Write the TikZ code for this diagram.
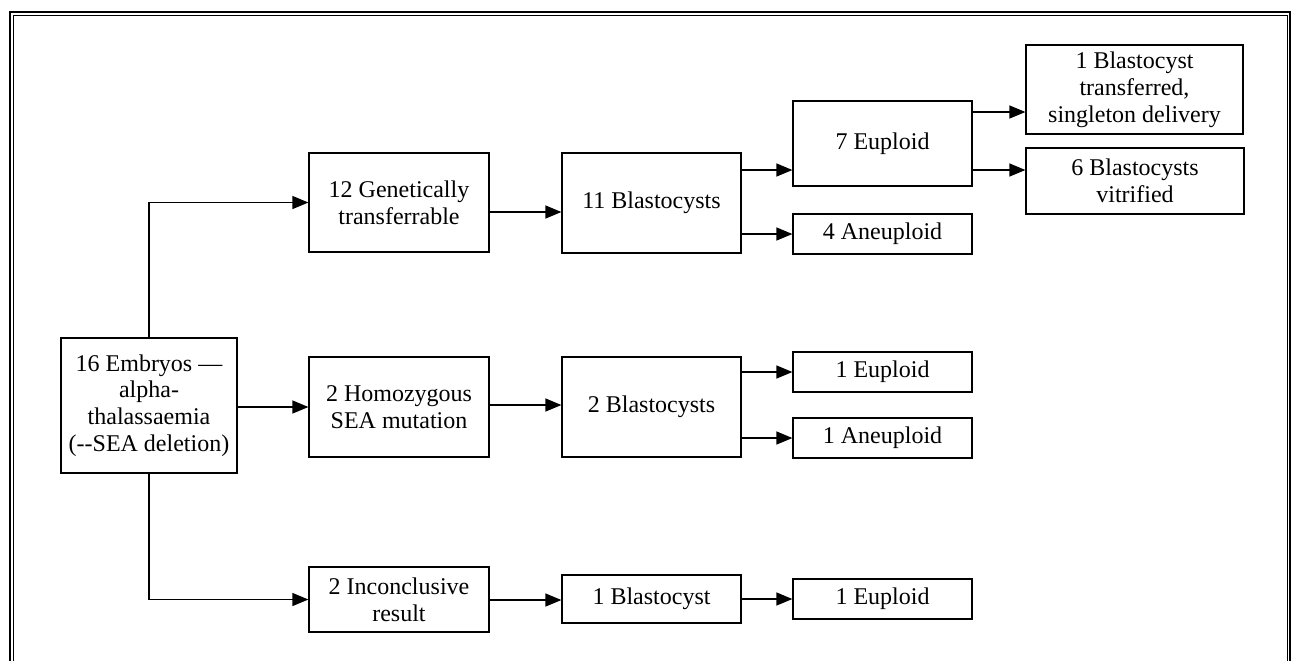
\documentclass[tikz,border=0pt]{standalone}
\usepackage{fontspec}
\setmainfont{Liberation Serif}
\usetikzlibrary{arrows.meta}
\begin{document}
\begin{tikzpicture}[x=0.5pt,y=0.5pt,yscale=-1,xscale=1,
  box/.style={draw, line width=0.6pt, inner sep=0pt, align=center, font=\fontsize{12}{13.4}\selectfont},
  arr/.style={line width=0.6pt, -{Triangle[length=8pt,width=6.5pt]}}]
\useasboundingbox (0,0) rectangle (1292,661);
%Frame
\draw [line width=1.2pt] (10,661) -- (10,12) -- (1290,12) -- (1290,661);
\draw [line width=0.5pt] (13,661) -- (13,15) -- (1287,15) -- (1287,661);

% Text Node
\node [box, minimum width=88pt, minimum height=67.5pt] (root) at (149,405.5) {16 Embryos —\\alpha-\\thalassaemia\\(-{}-SEA deletion)};
% Text Node
\node [box, minimum width=90pt, minimum height=49.5pt] (gen) at (399,202.5) {12 Genetically\\transferrable};
% Text Node
\node [box, minimum width=90pt, minimum height=50pt] (homo) at (399,407) {2 Homozygous\\SEA mutation};
% Text Node
\node [box, minimum width=90pt, minimum height=32.5pt] (inc) at (399,599.5) {2 Inconclusive\\result};
% Text Node
\node [box, minimum width=89.5pt, minimum height=50pt] (bl11) at (651.5,203) {11 Blastocysts};
% Text Node
\node [box, minimum width=89.5pt, minimum height=50pt] (bl2) at (651.5,407) {2 Blastocysts};
% Text Node
\node [box, minimum width=89.5pt, minimum height=24pt] (bl1) at (651.5,599) {1 Blastocyst};
% Text Node
\node [box, minimum width=89.5pt, minimum height=42.5pt] (eu7) at (882.5,143.5) {7 Euploid};
% Text Node
\node [box, minimum width=89.5pt, minimum height=20pt] (an4) at (882.5,234) {4 Aneuploid};
% Text Node
\node [box, minimum width=89.5pt, minimum height=20pt] (eu1) at (882.5,372) {1 Euploid};
% Text Node
\node [box, minimum width=89.5pt, minimum height=20pt] (an1) at (882.5,438) {1 Aneuploid};
% Text Node
\node [box, minimum width=89.5pt, minimum height=20pt] (eu1b) at (882.5,599) {1 Euploid};
% Text Node
\node [box, minimum width=108.5pt, minimum height=44.5pt] (tr1) at (1134.5,89.5) {1 Blastocyst\\transferred,\\singleton delivery};
% Text Node
\node [box, minimum width=109pt, minimum height=33pt] (vit6) at (1135,181) {6 Blastocysts\\vitrified};

%Straight Lines
\draw [arr] (root.north) |- (gen.west);
\draw [arr] (root.east |- homo.west) -- (homo.west);
\draw [arr] (root.south) |- (inc.west);
\draw [arr] (gen.east |- 0,212) -- (bl11.west |- 0,212);
\draw [arr] (homo.east |- 0,405) -- (bl2.west |- 0,405);
\draw [arr] (inc.east |- 0,600) -- (bl1.west |- 0,600);
\draw [arr] (bl11.east |- 0,170) -- (eu7.west |- 0,170);
\draw [arr] (bl11.east |- an4.west) -- (an4.west);
\draw [arr] (bl2.east |- eu1.west) -- (eu1.west);
\draw [arr] (bl2.east |- an1.west) -- (an1.west);
\draw [arr] (bl1.east |- eu1b.west) -- (eu1b.west);
\draw [arr] (eu7.east |- 0,112) -- (tr1.west |- 0,112);
\draw [arr] (eu7.east |- 0,170) -- (vit6.west |- 0,170);
\end{tikzpicture}
\end{document}
